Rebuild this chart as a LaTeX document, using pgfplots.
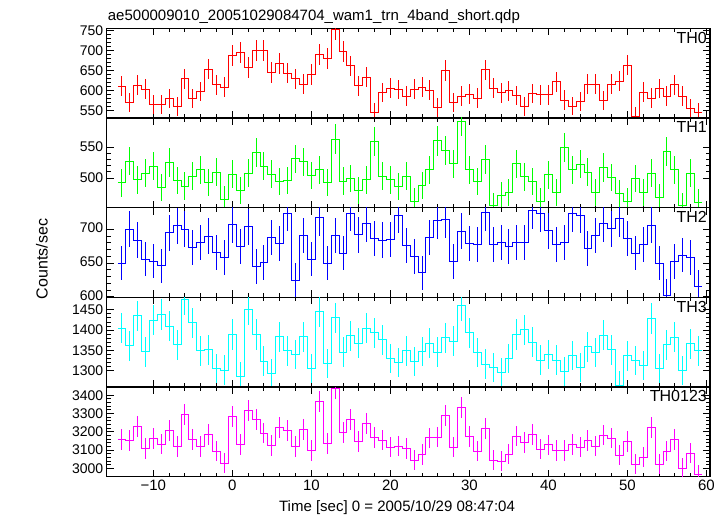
\documentclass[border=0pt]{standalone}
\usepackage{fontspec}
\setmainfont{Liberation Sans}
\usepackage{pgfplots}
\usepackage{pgfplotstable}
\pgfplotsset{compat=1.18}
\definecolor{pgreen}{rgb}{0,1,0}
\definecolor{pred}{rgb}{1,0,0}
\definecolor{pblue}{rgb}{0,0,1}
\definecolor{pcyan}{rgb}{0,1,1}
\definecolor{pmag}{rgb}{1,0,1}
\newcommand{\fs}{\fontsize{15bp}{18bp}\selectfont}
\newcommand{\ft}{\fontsize{14bp}{16bp}\selectfont}
\newcommand{\fl}{\fontsize{16bp}{19bp}\selectfont}

\pgfplotstableread{
t y
-14 611
-13 570
-12 613
-11 603
-10 565
-9 565
-8 580
-7 560
-6 629
-5 580
-4 597
-3 654
-2 614
-1 608
0 687
1 695
2 658
3 701
4 701
5 645
6 667
7 643
8 629
9 616
10 640
11 691
12 681
13 753
14 697
15 662
16 612
17 633
18 545
19 595
20 606
21 602
22 586
23 603
24 608
25 601
26 557
27 650
28 570
29 586
30 591
31 581
32 652
33 606
34 594
35 599
36 587
37 559
38 593
39 589
40 589
41 622
42 576
43 561
44 572
45 616
46 616
47 574
48 616
49 623
50 664
51 536
52 596
53 581
54 605
55 586
56 614
57 586
58 554
59 546
60 546
}\thzero

\pgfplotstableread{
t y
-14 492
-13 527
-12 497
-11 508
-10 519
-9 484
-8 525
-7 496
-6 487
-5 503
-4 513
-3 493
-2 509
-1 466
0 506
1 480
2 508
3 541
4 519
5 506
6 494
7 496
8 531
9 526
10 504
11 513
12 493
13 563
14 495
15 499
16 480
17 497
18 559
19 503
20 497
21 486
22 503
23 462
24 488
25 513
26 560
27 544
28 523
29 592
30 513
31 494
32 530
33 455
34 472
35 477
36 523
37 502
38 494
39 462
40 505
41 477
42 549
43 513
44 522
45 509
46 476
47 517
48 501
49 475
50 462
51 499
52 477
53 508
54 468
55 543
56 513
57 455
58 508
59 461
60 461
}\thone

\pgfplotstableread{
t y
-14 650
-13 700
-12 684
-11 656
-10 653
-9 646
-8 695
-7 705
-6 700
-5 673
-4 681
-3 690
-2 666
-1 658
0 707
1 675
2 704
3 645
4 651
5 688
6 679
7 724
8 625
9 691
10 656
11 717
12 650
13 691
14 665
15 724
16 692
17 708
18 686
19 684
20 685
21 721
22 676
23 660
24 636
25 688
26 713
27 714
28 652
29 697
30 679
31 678
32 725
33 678
34 680
35 675
36 680
37 681
38 728
39 723
40 698
41 677
42 681
43 723
44 721
45 671
46 691
47 708
48 701
49 716
50 686
51 665
52 677
53 706
54 650
55 602
56 652
57 662
58 658
59 615
60 615
}\thtwo

\pgfplotstableread{
t y
-14 1405
-13 1361
-12 1435
-11 1346
-10 1425
-9 1438
-8 1410
-7 1364
-6 1475
-5 1418
-4 1349
-3 1351
-2 1304
-1 1301
0 1389
1 1284
2 1450
3 1389
4 1323
5 1293
6 1383
7 1349
8 1339
9 1383
10 1304
11 1445
12 1317
13 1430
14 1345
15 1386
16 1367
17 1405
18 1393
19 1376
20 1330
21 1319
22 1349
23 1322
24 1347
25 1368
26 1345
27 1381
28 1373
29 1460
30 1393
31 1344
32 1316
33 1307
34 1294
35 1330
36 1389
37 1401
38 1370
39 1326
40 1340
41 1326
42 1298
43 1337
44 1307
45 1359
46 1344
47 1387
48 1351
49 1264
50 1336
51 1324
52 1312
53 1428
54 1304
55 1364
56 1382
57 1299
58 1366
59 1349
60 1349
}\ththree

\pgfplotstableread{
t y
-14 3158
-13 3153
-12 3229
-11 3109
-10 3164
-9 3133
-8 3207
-7 3120
-6 3295
-5 3158
-4 3120
-3 3185
-2 3093
-1 3029
0 3284
1 3131
2 3316
3 3269
4 3193
5 3125
6 3224
7 3207
8 3120
9 3213
10 3098
11 3365
12 3136
13 3436
14 3196
15 3267
16 3147
17 3244
18 3169
19 3155
20 3115
21 3122
22 3109
23 3044
24 3076
25 3167
26 3171
27 3287
28 3115
29 3333
30 3175
31 3095
32 3218
33 3044
34 3038
35 3078
36 3176
37 3142
38 3185
39 3104
40 3129
41 3098
42 3098
43 3131
44 3115
45 3151
46 3122
47 3182
48 3165
49 3073
50 3147
51 3022
52 3060
53 3222
54 3022
55 3095
56 3158
57 3000
58 3084
59 2965
60 2965
}\thall

\tikzset{lab/.style={anchor=north east, inner sep=0pt, xshift=-3bp, yshift=-3.4bp, font=\fl}}
\pgfplotsset{
  panel/.style={
    scale only axis, width=603.3bp, height=89.68bp,
    xmin=-15.9, xmax=60.45,
    xtick={-10,0,...,60}, minor x tick num=4,
    xticklabels={},
    xtick pos=both, ytick pos=both, yticklabel pos=left,
    tick align=inside,
    major tick length=7bp, minor tick length=4bp,
    axis line style={line width=1.3bp, black},
    every tick/.style={black, line width=0.9bp},
    tick label style={font=\ft},
    /pgf/number format/assume math mode=true,
    /pgf/number format/1000 sep={},
    anchor=north west,
  },
  steps/.style={const plot mark left, mark=none, line width=0.9bp, color=#1},
  errs/.style={draw=none, mark=none, skip coords between index={74}{75},
    error bars/.cd, y dir=both, y explicit, error mark=none,
    error bar style={line width=0.9bp, color=#1}},
}

\begin{document}
\begin{tikzpicture}
\path[use as bounding box] (-106.7bp,28.3bp) rectangle (621.3bp,-487.7bp);

\begin{axis}[panel, at={(0,0)}, ymin=531, ymax=756,
  ytick={550,600,...,750}, minor y tick num=4]
\addplot[steps=pred] table[x expr=\thisrow{t}-0.5, y=y] {\thzero};
\addplot[errs=pred] table[x=t, y=y, y error expr=sqrt(\thisrow{y})] {\thzero};
\node[lab] at (rel axis cs:1,1) {TH0};
\end{axis}

\begin{axis}[panel, at={(0,-89.68bp)}, ymin=452, ymax=597,
  ytick={500,550}, minor y tick num=4]
\addplot[steps=pgreen] table[x expr=\thisrow{t}-0.5, y=y] {\thone};
\addplot[errs=pgreen] table[x=t, y=y, y error expr=sqrt(\thisrow{y})] {\thone};
\node[lab] at (rel axis cs:1,1) {TH1};
\end{axis}

\begin{axis}[panel, at={(0,-179.36bp)}, ymin=599.4, ymax=732,
  ytick={600,650,700}, minor y tick num=4, yticklabel style={yshift=1.5bp}]
\addplot[steps=pblue] table[x expr=\thisrow{t}-0.5, y=y] {\thtwo};
\addplot[errs=pblue] table[x=t, y=y, y error expr=sqrt(\thisrow{y})] {\thtwo};
\node[lab] at (rel axis cs:1,1) {TH2};
\end{axis}

\begin{axis}[panel, at={(0,-269.04bp)}, ymin=1259, ymax=1481,
  ytick={1300,1350,...,1450}, minor y tick num=4]
\addplot[steps=pcyan] table[x expr=\thisrow{t}-0.5, y=y] {\ththree};
\addplot[errs=pcyan] table[x=t, y=y, y error expr=sqrt(\thisrow{y})] {\ththree};
\node[lab] at (rel axis cs:1,1) {TH3};
\end{axis}

\begin{axis}[panel, at={(0,-358.72bp)}, ymin=2954, ymax=3445,
  ytick={3000,3100,...,3400}, minor y tick num=4,
  xticklabels={−10,0,10,20,30,40,50,60}, xticklabel pos=bottom,
  xticklabel style={font=\fs}]
\addplot[steps=pmag] table[x expr=\thisrow{t}-0.5, y=y] {\thall};
\addplot[errs=pmag] table[x=t, y=y, y error expr=sqrt(\thisrow{y})] {\thall};
\node[lab] at (rel axis cs:1,1) {TH0123};
\end{axis}

\node[anchor=base west, inner sep=0pt, font=\fs] at (1bp,8.3bp) {ae500009010\_20051029084704\_wam1\_trn\_4band\_short.qdp};
\node[rotate=90, font=\fl, inner sep=0pt] at (-64.7bp,-230.7bp) {Counts/sec};
\node[anchor=base, inner sep=0pt, font=\fs] at (290.3bp,-483.4bp) {Time [sec] 0 = 2005/10/29 08:47:04};
\end{tikzpicture}
\end{document}
